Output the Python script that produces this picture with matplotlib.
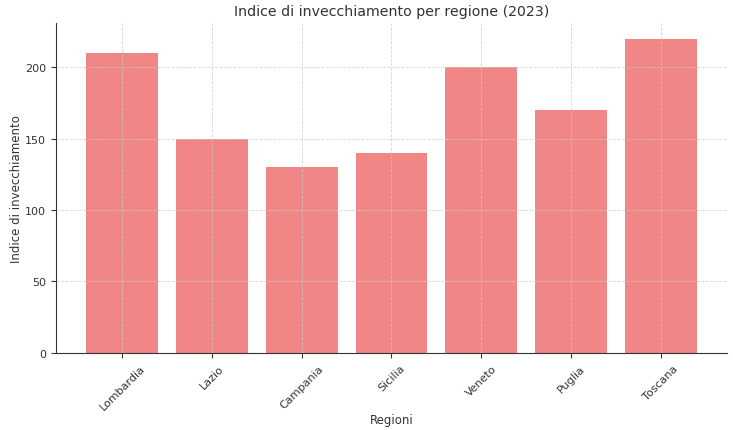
import matplotlib
matplotlib.use("Agg")
import matplotlib.pyplot as plt

regioni = ["Lombardia", "Lazio", "Campania", "Sicilia", "Veneto", "Puglia", "Toscana"]
indice = [210, 150, 130, 140, 200, 170, 220]


def main():
    fig = plt.figure(figsize=(7.33, 4.31), dpi=100)
    ax = fig.add_axes([0.076, 0.179, 0.916, 0.765])

    ax.bar(regioni, indice, color="lightcoral", alpha=0.95, width=0.8, zorder=2)
    ax.grid(True, linestyle="--", linewidth=0.6, color="#cccccc", alpha=0.8, zorder=0)
    ax.set_axisbelow(False)

    for s in ["top", "right"]:
        ax.spines[s].set_visible(False)
    for s in ["left", "bottom"]:
        ax.spines[s].set_color("#333333")

    ax.set_title("Indice di invecchiamento per regione (2023)", fontsize=10.2, color="#333333")
    ax.set_xlabel("Regioni", fontsize=8.5, color="#333333", labelpad=1)
    ax.set_ylabel("Indice di invecchiamento", fontsize=8.5, color="#333333")
    ax.yaxis.set_label_coords(-0.049, 0.5)
    ax.tick_params(axis="both", labelsize=8, colors="#333333")
    plt.setp(ax.get_xticklabels(), rotation=45)

    fig.savefig("out.png", dpi=100)


if __name__ == "__main__":
    main()
